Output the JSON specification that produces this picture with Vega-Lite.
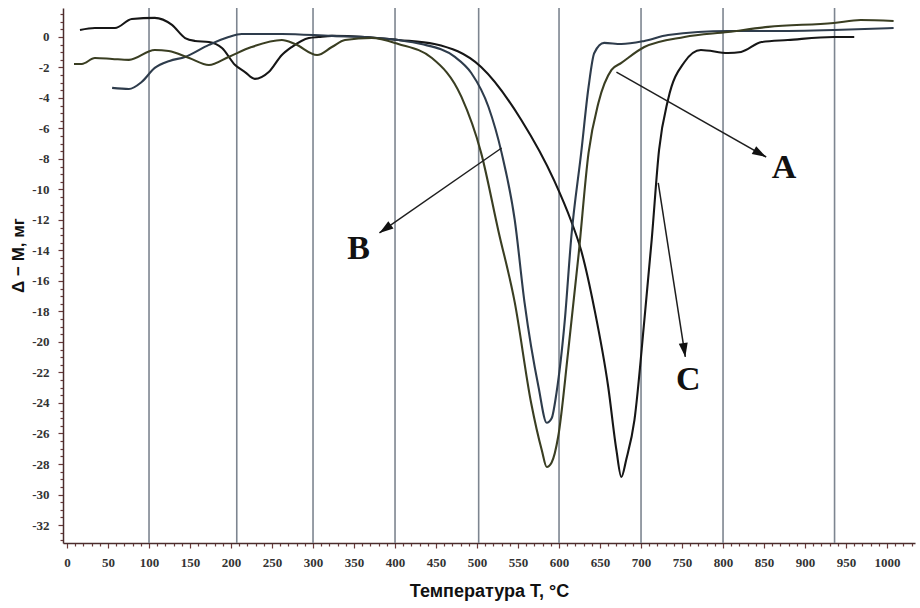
{
  "$schema": "https://vega.github.io/schema/vega-lite/v6.json",
  "width": 852,
  "height": 535,
  "autosize": "none",
  "padding": {"left": 63, "top": 8, "right": 5, "bottom": 65},
  "background": "white",
  "config": {"view": {"stroke": null}},
  "datasets": {
    "curves": [
      {"s": "C", "T": 15.8, "M": 0.46}, {"s": "C", "T": 34, "M": 0.59}, {"s": "C", "T": 58.5, "M": 0.59}, {"s": "C", "T": 79, "M": 1.18}, {"s": "C", "T": 107, "M": 1.25}, {"s": "C", "T": 128, "M": 0.79}, {"s": "C", "T": 144, "M": -0.07}, {"s": "C", "T": 156, "M": -0.26}, {"s": "C", "T": 173, "M": -0.33}, {"s": "C", "T": 189, "M": -0.72}, {"s": "C", "T": 205, "M": -1.84}, {"s": "C", "T": 217, "M": -2.3}, {"s": "C", "T": 229, "M": -2.75}, {"s": "C", "T": 246, "M": -2.3}, {"s": "C", "T": 262, "M": -1.18}, {"s": "C", "T": 274, "M": -0.66}, {"s": "C", "T": 295, "M": -0.07}, {"s": "C", "T": 307, "M": 0}, {"s": "C", "T": 323, "M": 0.07}, {"s": "C", "T": 363, "M": 0}, {"s": "C", "T": 404, "M": -0.2}, {"s": "C", "T": 448, "M": -0.46}, {"s": "C", "T": 505, "M": -1.97}, {"s": "C", "T": 554, "M": -5.44}, {"s": "C", "T": 594, "M": -9.4}, {"s": "C", "T": 615, "M": -12.1}, {"s": "C", "T": 627, "M": -14.0}, {"s": "C", "T": 643, "M": -17.8}, {"s": "C", "T": 660, "M": -22.95}, {"s": "C", "T": 670, "M": -27.1}, {"s": "C", "T": 676, "M": -28.85}, {"s": "C", "T": 682, "M": -27.7}, {"s": "C", "T": 692, "M": -25.1}, {"s": "C", "T": 704, "M": -18.6}, {"s": "C", "T": 713, "M": -13.3}, {"s": "C", "T": 722, "M": -7.4}, {"s": "C", "T": 733, "M": -4.1}, {"s": "C", "T": 753, "M": -1.64}, {"s": "C", "T": 773, "M": -0.85}, {"s": "C", "T": 806, "M": -1.05}, {"s": "C", "T": 822, "M": -0.98}, {"s": "C", "T": 847, "M": -0.33}, {"s": "C", "T": 879, "M": -0.2}, {"s": "C", "T": 935, "M": 0}, {"s": "C", "T": 960, "M": 0},
      {"s": "B", "T": 55, "M": -3.34}, {"s": "B", "T": 75.5, "M": -3.41}, {"s": "B", "T": 91, "M": -2.95}, {"s": "B", "T": 107, "M": -2.03}, {"s": "B", "T": 125, "M": -1.57}, {"s": "B", "T": 144, "M": -1.31}, {"s": "B", "T": 173, "M": -0.52}, {"s": "B", "T": 197, "M": 0}, {"s": "B", "T": 213, "M": 0.2}, {"s": "B", "T": 262, "M": 0.2}, {"s": "B", "T": 323, "M": 0.07}, {"s": "B", "T": 363, "M": 0}, {"s": "B", "T": 404, "M": -0.2}, {"s": "B", "T": 432, "M": -0.46}, {"s": "B", "T": 473, "M": -1.31}, {"s": "B", "T": 493, "M": -2.36}, {"s": "B", "T": 514, "M": -4.59}, {"s": "B", "T": 530, "M": -7.6}, {"s": "B", "T": 546, "M": -12}, {"s": "B", "T": 558, "M": -17.44}, {"s": "B", "T": 575, "M": -22.95}, {"s": "B", "T": 585, "M": -25.3}, {"s": "B", "T": 591, "M": -25}, {"s": "B", "T": 597, "M": -23.3}, {"s": "B", "T": 607, "M": -18.6}, {"s": "B", "T": 615, "M": -13.1}, {"s": "B", "T": 627, "M": -7.6}, {"s": "B", "T": 636, "M": -3.28}, {"s": "B", "T": 643, "M": -1.05}, {"s": "B", "T": 655, "M": -0.39}, {"s": "B", "T": 676, "M": -0.46}, {"s": "B", "T": 704, "M": -0.26}, {"s": "B", "T": 733, "M": 0.13}, {"s": "B", "T": 806, "M": 0.39}, {"s": "B", "T": 855, "M": 0.39}, {"s": "B", "T": 935, "M": 0.46}, {"s": "B", "T": 1008, "M": 0.59},
      {"s": "A", "T": 8.5, "M": -1.77}, {"s": "A", "T": 18, "M": -1.77}, {"s": "A", "T": 34, "M": -1.38}, {"s": "A", "T": 55, "M": -1.44}, {"s": "A", "T": 75.5, "M": -1.5}, {"s": "A", "T": 107, "M": -0.85}, {"s": "A", "T": 124, "M": -0.92}, {"s": "A", "T": 149, "M": -1.38}, {"s": "A", "T": 173, "M": -1.84}, {"s": "A", "T": 197, "M": -1.31}, {"s": "A", "T": 225, "M": -0.66}, {"s": "A", "T": 262, "M": -0.2}, {"s": "A", "T": 278, "M": -0.46}, {"s": "A", "T": 305, "M": -1.18}, {"s": "A", "T": 323, "M": -0.66}, {"s": "A", "T": 339, "M": -0.2}, {"s": "A", "T": 371.5, "M": -0.07}, {"s": "A", "T": 404, "M": -0.46}, {"s": "A", "T": 445, "M": -1.38}, {"s": "A", "T": 481, "M": -3.93}, {"s": "A", "T": 505, "M": -7.6}, {"s": "A", "T": 526, "M": -12.7}, {"s": "A", "T": 546, "M": -17.4}, {"s": "A", "T": 566, "M": -24}, {"s": "A", "T": 579, "M": -27.1}, {"s": "A", "T": 585, "M": -28.2}, {"s": "A", "T": 591, "M": -27.9}, {"s": "A", "T": 599, "M": -26.2}, {"s": "A", "T": 611, "M": -20.7}, {"s": "A", "T": 624, "M": -14.2}, {"s": "A", "T": 636, "M": -7.6}, {"s": "A", "T": 648, "M": -4.33}, {"s": "A", "T": 664, "M": -2.16}, {"s": "A", "T": 676, "M": -1.7}, {"s": "A", "T": 704, "M": -0.66}, {"s": "A", "T": 753, "M": 0}, {"s": "A", "T": 806, "M": 0.33}, {"s": "A", "T": 855, "M": 0.66}, {"s": "A", "T": 935, "M": 0.92}, {"s": "A", "T": 968, "M": 1.11}, {"s": "A", "T": 1008, "M": 1.05}
    ],
    "grid": [{"T": 100}, {"T": 207}, {"T": 300}, {"T": 400}, {"T": 502}, {"T": 600}, {"T": 700}, {"T": 800}, {"T": 936}],
    "arrows": [
      {"a": "A", "T": 670, "M": -2.3}, {"a": "A", "T": 852.6, "M": -7.87},
      {"a": "B", "T": 530, "M": -7.28}, {"a": "B", "T": 381, "M": -12.85},
      {"a": "C", "T": 721, "M": -9.57}, {"a": "C", "T": 754, "M": -20.98}
    ],
    "heads": [{"a": "A", "T": 852.6, "M": -7.87}, {"a": "B", "T": 381, "M": -12.85}, {"a": "C", "T": 754, "M": -20.98}],
    "labels": [{"a": "A", "T": 874.5, "M": -8.6}, {"a": "B", "T": 355.7, "M": -13.9}, {"a": "C", "T": 757.6, "M": -22.5}]
  },
  "layer": [
    {
      "data": {"name": "grid"},
      "mark": {"type": "rule", "color": "#7d8590", "strokeWidth": 1.6},
      "encoding": {
        "x": {
          "field": "T", "type": "quantitative",
          "scale": {"domain": [-4.9, 1034.1], "nice": false, "zero": false},
          "axis": {
            "title": "Температура T, °C",
            "titleFont": "Liberation Sans", "titleFontSize": 18, "titleFontWeight": "bold", "titleColor": "#111", "titlePadding": 13,
            "tickCount": 104, "format": "d",
            "labelExpr": "datum.value % 50 === 0 ? datum.label : ''",
            "labelOverlap": false, "labelFlush": false,
            "labelFont": "Liberation Serif", "labelFontWeight": "bold", "labelFontSize": 13, "labelColor": "#333", "labelPadding": 8,
            "tickColor": "#6b3a3a", "tickWidth": 1.2,
            "tickSize": {"condition": {"test": "datum.value % 50 === 0", "value": 5}, "value": 3},
            "domainColor": "#4a2c2c", "domainWidth": 1.5, "grid": false
          }
        }
      }
    },
    {
      "data": {"name": "curves"},
      "mark": {"type": "line", "strokeWidth": 2.1, "interpolate": "monotone"},
      "encoding": {
        "x": {"field": "T", "type": "quantitative"},
        "y": {
          "field": "M", "type": "quantitative",
          "scale": {"domain": [-33.18, 1.9], "nice": false, "zero": false},
          "axis": {
            "title": "Δ − M, мг",
            "titleFont": "Liberation Sans", "titleFontSize": 17, "titleFontWeight": "bold", "titleColor": "#111", "titlePadding": 4, "titleY": 247,
            "tickCount": 70,
            "labelExpr": "datum.value === 0 ? '0' : (datum.value % 2 === 0 ? '-' + abs(datum.value) : '')",
            "labelOverlap": false, "labelFlush": false,
            "labelFont": "Liberation Serif", "labelFontWeight": "bold", "labelFontSize": 13, "labelColor": "#333", "labelPadding": 9,
            "tickColor": "#6b3a3a", "tickWidth": 1.2,
            "tickSize": {"condition": {"test": "datum.value % 2 === 0", "value": 5}, "value": 3},
            "domainColor": "#4a2c2c", "domainWidth": 1.5, "grid": false
          }
        },
        "color": {"field": "s", "type": "nominal", "legend": null,
          "scale": {"domain": ["A", "B", "C"], "range": ["#3a3e22", "#2e3c4c", "#161616"]}},
        "detail": {"field": "s"}
      }
    },
    {
      "data": {"name": "arrows"},
      "mark": {"type": "line", "color": "#1e1e1e", "strokeWidth": 1.5},
      "encoding": {
        "x": {"field": "T", "type": "quantitative"},
        "y": {"field": "M", "type": "quantitative"},
        "detail": {"field": "a"}
      }
    },
    {
      "data": {"name": "heads"},
      "transform": [{"filter": "datum.a === 'A'"}],
      "mark": {"type": "point", "shape": "M0,0L-0.9,2.8L0.9,2.8Z", "size": 100, "filled": true, "color": "#111", "opacity": 1, "angle": 119.5},
      "encoding": {"x": {"field": "T", "type": "quantitative"}, "y": {"field": "M", "type": "quantitative"}}
    },
    {
      "data": {"name": "heads"},
      "transform": [{"filter": "datum.a === 'B'"}],
      "mark": {"type": "point", "shape": "M0,0L-0.9,2.8L0.9,2.8Z", "size": 100, "filled": true, "color": "#111", "opacity": 1, "angle": 235},
      "encoding": {"x": {"field": "T", "type": "quantitative"}, "y": {"field": "M", "type": "quantitative"}}
    },
    {
      "data": {"name": "heads"},
      "transform": [{"filter": "datum.a === 'C'"}],
      "mark": {"type": "point", "shape": "M0,0L-0.9,2.8L0.9,2.8Z", "size": 100, "filled": true, "color": "#111", "opacity": 1, "angle": 171.5},
      "encoding": {"x": {"field": "T", "type": "quantitative"}, "y": {"field": "M", "type": "quantitative"}}
    },
    {
      "data": {"name": "labels"},
      "mark": {"type": "text", "font": "Liberation Serif", "fontWeight": "bold", "fontSize": 34, "color": "#111", "align": "center", "baseline": "middle"},
      "encoding": {
        "x": {"field": "T", "type": "quantitative"},
        "y": {"field": "M", "type": "quantitative"},
        "text": {"field": "a"}
      }
    }
  ]
}
